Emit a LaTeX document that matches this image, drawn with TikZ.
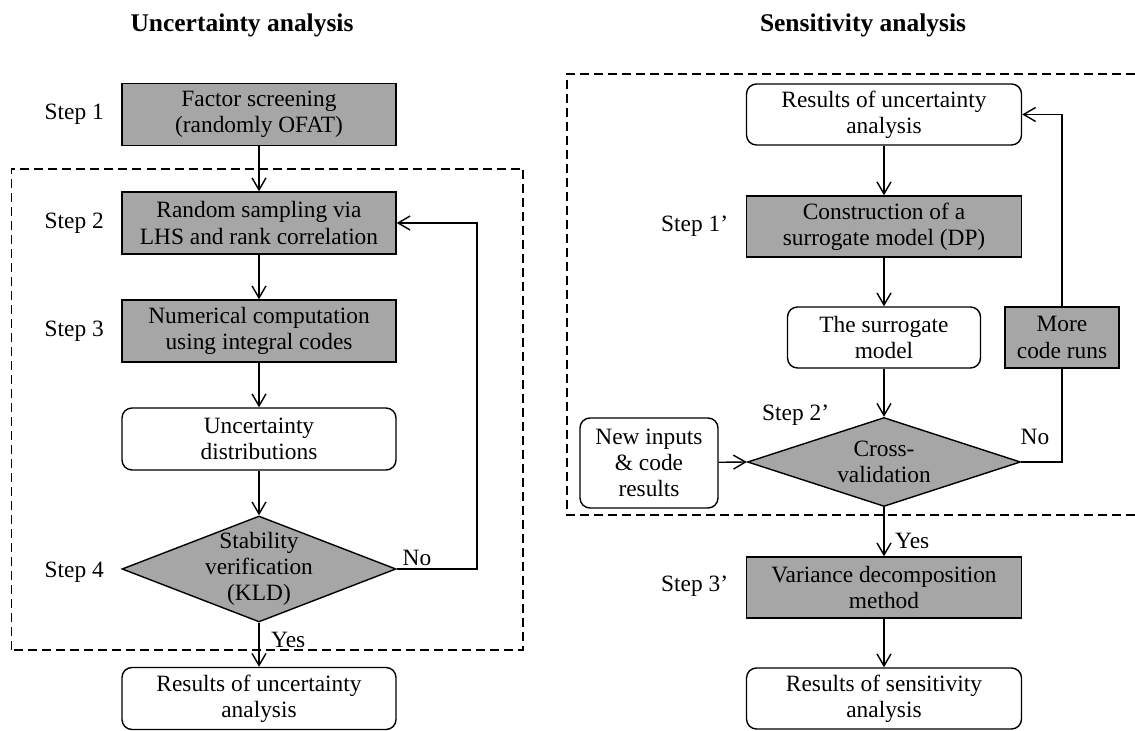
\documentclass[tikz,border=0pt]{standalone}
\usepackage{fontspec}
\setmainfont{Liberation Serif}
\usepackage{tikz}
\usetikzlibrary{positioning, shapes.geometric, arrows.meta}
\definecolor{boxgray}{RGB}{166,166,166}
\tikzset{
  process/.style={
    shape=rectangle,
    draw,
    fill=boxgray,
    align=center,
    font=\fontsize{13.3}{15}\selectfont,
    minimum width=5.48cm,
    minimum height=1.24cm,
    inner sep=1pt,
    line width=0.8pt,
  },
  outcome/.style={
  process, fill=white, rounded corners=2mm
  },
  decision/.style={
  shape=diamond, draw, fill=boxgray, inner sep=0pt, line width=0.8pt
  },
  stepname/.style={anchor=west, font=\fontsize{13.3}{15}\selectfont},
  title/.style={font=\fontsize{14.5}{17}\selectfont\bfseries},
  flow/.style={line width=0.8pt, -{Straight Barb[length=2.4mm,width=2.8mm]}},
  group/.style={line width=0.9pt, dash pattern=on 1.8mm off 1mm}
}

\begin{document}
\begin{tikzpicture}
\useasboundingbox (0,0) rectangle (22.7,14.62);

% Titles
\node[title] (tu) at (4.84,14.12) {Uncertainty analysis};
\node[title] (ts) at (17.26,14.12) {Sensitivity analysis};

% Uncertainty analysis
\draw[group] (0.23,1.62) rectangle (10.46,11.24);
\node[process] (fs) at (5.18,12.33) {Factor screening\\(randomly OFAT)};
\node[process] (rs) at (5.18,10.16) {Random sampling via\\LHS and rank correlation};
\node[process] (nc) at (5.18,8.0) {Numerical computation\\using integral codes};
\node[outcome] (ud) at (5.18,5.84) {Uncertainty\\distributions};
\node[decision, minimum width=5.48cm, minimum height=2.12cm,
  label={[align=center, font=\fontsize{13.3}{15}\selectfont]center:Stability\\verification\\(KLD)}]
  (stab) at (5.18,3.24) {};
\node[outcome] (ru) at (5.18,0.65) {Results of uncertainty\\analysis};

\node[stepname] (s1) at (0.77,12.33) {Step 1};
\node[stepname] (s2) at (0.77,10.16) {Step 2};
\node[stepname] (s3) at (0.77,8.0) {Step 3};
\node[stepname] (s4) at (0.77,3.18) {Step 4};

\coordinate (loopA) at (9.54,3.24);
\draw[flow] (fs) -- (rs);
\draw[flow] (rs) -- (nc);
\draw[flow] (nc) -- (ud);
\draw[flow] (ud) -- (stab);
\draw[flow] (stab) -- (ru);
\draw[flow] (stab.east) -- (loopA) |- (rs.east);
\node[stepname, anchor=center] (noA) at (8.34,3.46) {No};
\node[stepname] (yesA) at (5.3,1.82) {Yes};

% Sensitivity analysis
\draw[group] (22.7,13.14) -- (11.34,13.14) -- (11.34,4.32) -- (22.7,4.32);
\node[outcome, minimum width=5.5cm, minimum height=1.22cm] (rua) at (17.68,12.33) {Results of uncertainty\\analysis};
\node[process, minimum width=5.5cm, minimum height=1.22cm] (cons) at (17.68,10.09) {Construction of a\\surrogate model (DP)};
\node[outcome, minimum width=3.86cm, minimum height=1.22cm] (sm) at (17.68,7.87) {The surrogate\\model};
\node[process, minimum width=2.28cm, minimum height=1.22cm] (more) at (21.24,7.87) {More\\code runs};
\node[decision, minimum width=5.46cm, minimum height=1.78cm,
  label={[align=center, font=\fontsize{13.3}{15}\selectfont]center:Cross-\\validation}]
  (cv) at (17.68,5.38) {};
\node[outcome, minimum width=2.76cm, minimum height=1.8cm] (ni) at (12.98,5.36) {New inputs\\\& code\\results};
\node[process, minimum width=5.5cm, minimum height=1.22cm] (vd) at (17.68,2.87) {Variance decomposition\\method};
\node[outcome, minimum width=5.5cm, minimum height=1.22cm] (rsa) at (17.68,0.65) {Results of sensitivity\\analysis};

\node[stepname] (s1b) at (13.1,10.09) {Step 1’};
\node[stepname] (s2b) at (15.12,6.32) {Step 2’};
\node[stepname] (s3b) at (13.1,2.9) {Step 3’};

\draw[flow] (rua) -- (cons);
\draw[flow] (cons) -- (sm);
\draw[flow] (sm) -- (cv);
\draw[flow] (ni) -- (cv.west);
\draw[line width=0.8pt] (cv.east) -| (more.south);
\draw[flow] (more.north) |- (rua.east);
\draw[flow] (cv) -- (vd);
\draw[flow] (vd) -- (rsa);
\node[stepname, anchor=center] (noB) at (20.7,5.88) {No};
\node[stepname] (yesB) at (17.78,3.8) {Yes};

\end{tikzpicture}
\end{document}
